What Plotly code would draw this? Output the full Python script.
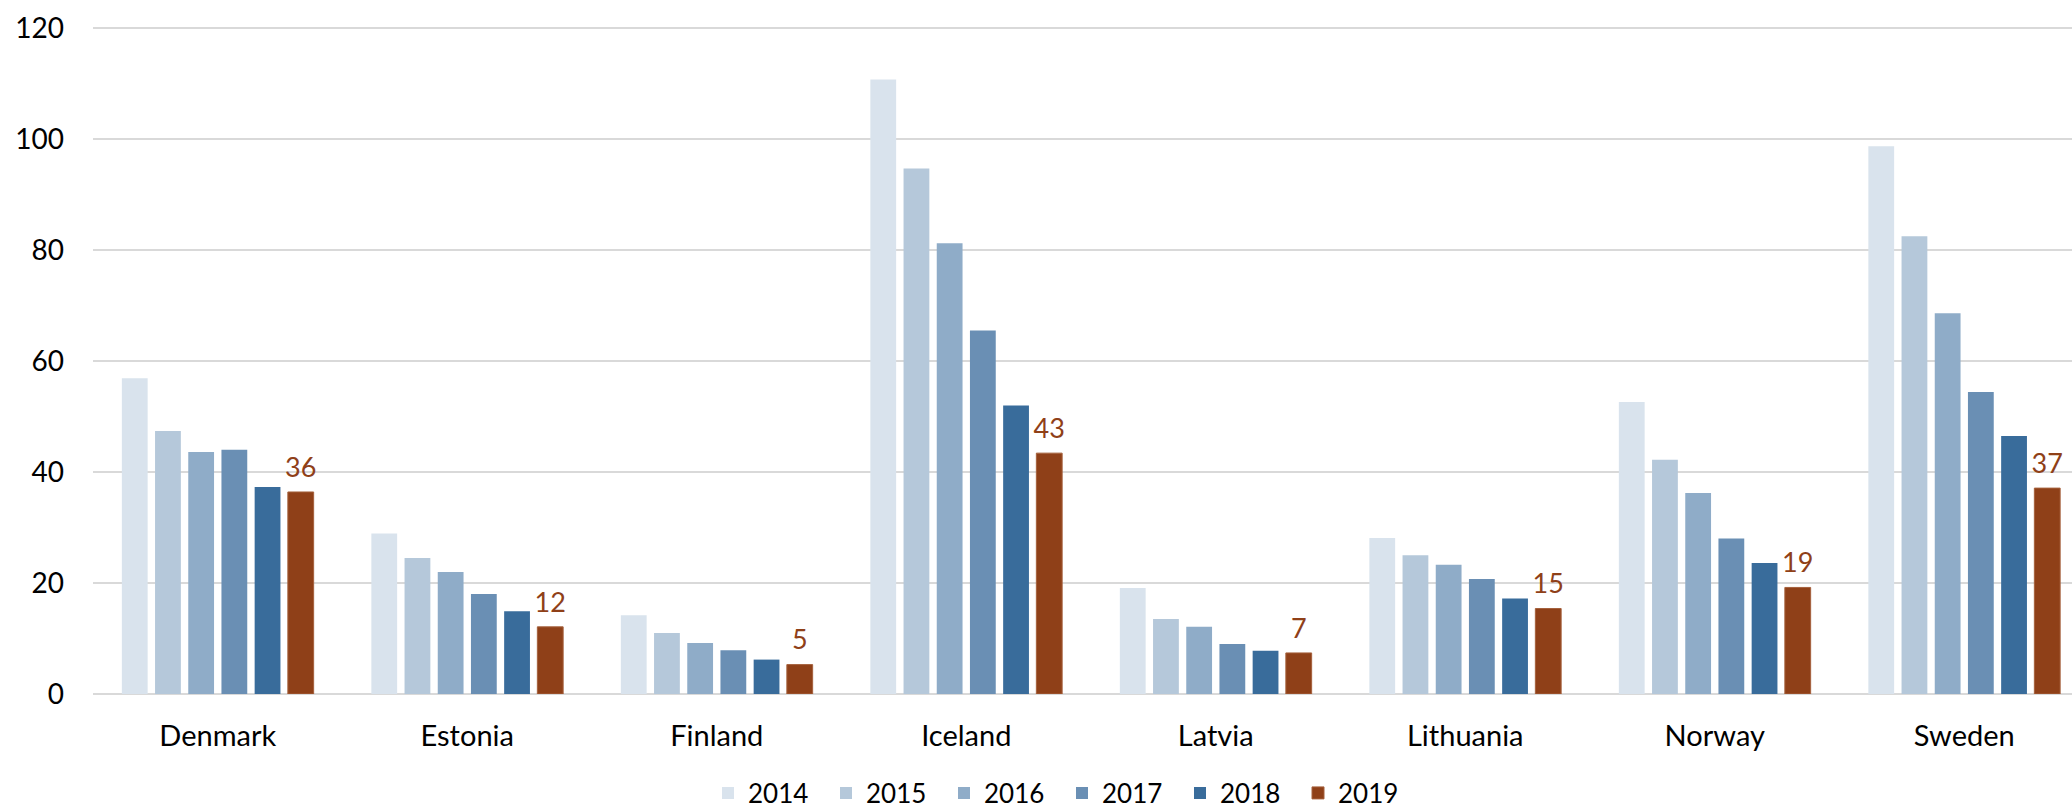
import plotly.graph_objects as go

categories = ["Denmark", "Estonia", "Finland", "Iceland", "Latvia", "Lithuania", "Norway", "Sweden"]
years = ["2014", "2015", "2016", "2017", "2018", "2019"]
v2014 = [56.9, 28.9, 14.2, 110.7, 19.1, 28.1, 52.6, 98.7]
v2015 = [47.4, 24.5, 11.0, 94.7, 13.5, 25.0, 42.2, 82.5]
v2016 = [43.6, 22.0, 9.2, 81.2, 12.1, 23.3, 36.2, 68.6]
v2017 = [44.0, 18.0, 7.9, 65.5, 9.0, 20.7, 28.0, 54.4]
v2018 = [37.3, 14.9, 6.2, 52.0, 7.8, 17.2, 23.6, 46.5]
v2019 = [36.4, 12.1, 5.3, 43.4, 7.4, 15.4, 19.2, 37.1]
series = [v2014, v2015, v2016, v2017, v2018, v2019]
colors = ["#d9e3ed", "#b5c8da", "#8facc8", "#6a8fb4", "#396c9b", "#8f4018"]

FONT = "Lato"
W, H = 2072, 810
L, R, T, B = 93, 0, 26, 116
cat_w = 249.5
plot_w = W - L - R
plot_h = H - T - B
ymax = 120 * plot_h / (694 - 28)

fig = go.Figure()
for yr, vals, col in zip(years, series, colors):
    line = dict(color="#a5603c", width=1) if yr == "2019" else dict(width=0)
    fig.add_trace(go.Bar(
        name=yr, x=categories, y=vals,
        offsetgroup=yr, alignmentgroup="all",
        marker=dict(color=col, line=line),
    ))

# value labels for 2019
fig.add_trace(go.Scatter(
    x=categories, y=v2019, mode="markers+text",
    offsetgroup="2019", alignmentgroup="all",
    marker=dict(size=12, opacity=0, color="#8f4018"),
    text=[f"{v:.0f}" for v in v2019], textposition="top center",
    textfont=dict(family=FONT, size=27, color="#8f4018"),
    showlegend=False, hoverinfo="skip", cliponaxis=False,
))

fig.update_layout(
    width=W, height=H,
    margin=dict(l=L, r=R, t=T, b=B, pad=0, autoexpand=False),
    paper_bgcolor="white", plot_bgcolor="white",
    barmode="group", bargap=0.2016, bargroupgap=0.223,
    scattermode="group", scattergap=0.2016,
    font=dict(family=FONT, color="#000000"),
    showlegend=True,
    legend=dict(
        orientation="h", x=(1062 - L) / plot_w, xanchor="center",
        y=(H - B - 793) / plot_h, yanchor="middle",
        font=dict(family=FONT, size=26, color="#000000"),
        entrywidth=73, entrywidthmode="pixels",
        traceorder="normal",
    ),
    xaxis=dict(
        range=[-0.5, -0.5 + plot_w / cat_w],
        showgrid=False, showline=False, zeroline=False,
        tickfont=dict(family=FONT, size=29, color="#000000"),
        ticks="", ticklabelstandoff=22,
    ),
    yaxis=dict(
        range=[0, ymax], tickvals=[0, 20, 40, 60, 80, 100, 120],
        showgrid=True, gridcolor="#d9d9d9", gridwidth=1.5,
        zeroline=True, zerolinecolor="#d9d9d9", zerolinewidth=1.5,
        showline=False, ticks="",
        tickfont=dict(family=FONT, size=28, color="#000000"),
        ticklabelstandoff=28,
    ),
)

fig.write_html(
    "out.html",
    config={"displayModeBar": False},
    post_script="document.body.style.margin='0px';document.body.style.overflow='hidden';",
)
